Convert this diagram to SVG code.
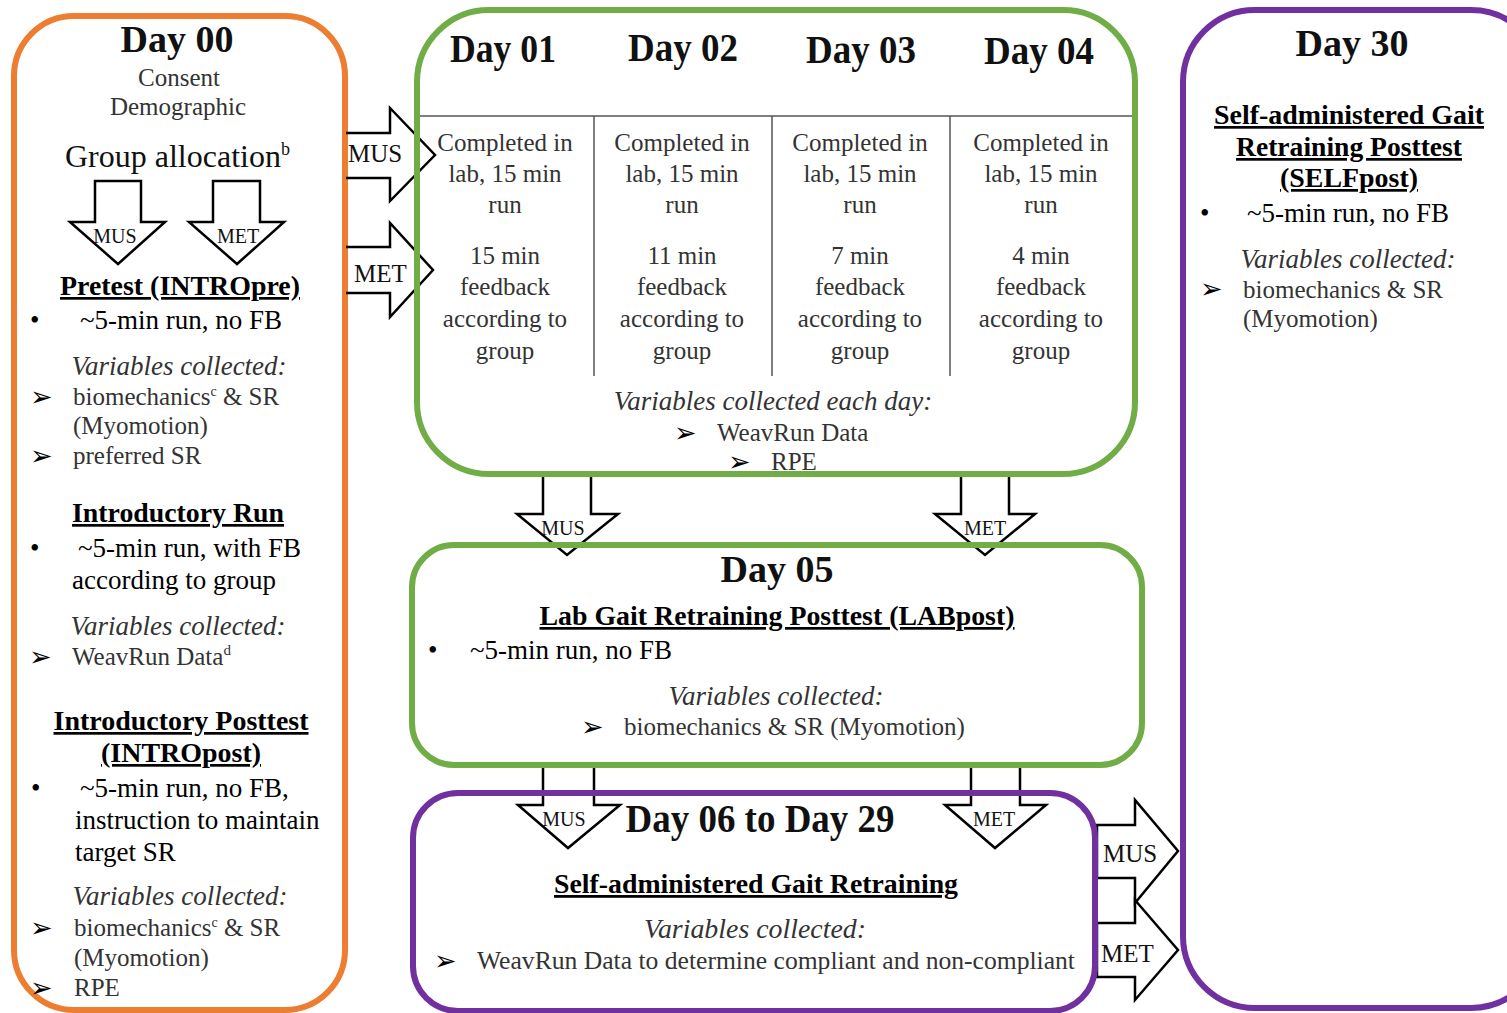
<svg xmlns="http://www.w3.org/2000/svg" width="1507" height="1013" viewBox="0 0 1507 1013">
<style>
text{font-family:"Liberation Serif","Times New Roman",serif;fill:#111}
.title{font-weight:bold;font-size:38px}
.reg{font-size:25px;fill:#333}
.run{font-size:27px;fill:#000}
.hd{font-weight:bold;font-size:27px;text-decoration:underline;fill:#000}
.var{font-style:italic;font-size:27px;fill:#333}
.blt{font-family:"DejaVu Sans",sans-serif;font-size:27px;fill:#000}
.lab{font-size:25px;fill:#111}
.slab{font-size:20px;fill:#111}
.mid{text-anchor:middle}
.box{fill:none;stroke-width:6}
.arr{fill:#fff;stroke:#000;stroke-width:2.5;stroke-linejoin:miter}
.grid{stroke:#555;stroke-width:1.5}
</style>

<g id="day00">
<rect class="box" x="14" y="16" width="331" height="994" rx="60" stroke="#ED7D31"/>
<text class="title mid" x="177" y="52">Day 00</text>
<text class="reg mid" x="179" y="86">Consent</text>
<text class="reg mid" x="178" y="115">Demographic</text>
<text x="65" y="167" style="font-size:32px;fill:#111">Group allocation<tspan dy="-12" style="font-size:18px">b</tspan></text>
<text class="hd mid" x="180" y="295" textLength="240" lengthAdjust="spacingAndGlyphs">Pretest (INTROpre)</text>
<text class="run" x="30" y="329">•</text>
<text class="run" x="80" y="329">~5-min run, no FB</text>
<text class="var mid" x="179" y="375">Variables collected:</text>
<text class="blt" x="30" y="406">➢</text>
<text class="reg" x="73" y="405">biomechanics<tspan dy="-9" style="font-size:14px">c</tspan><tspan dy="9"> &amp; SR</tspan></text>
<text class="reg" x="73" y="434">(Myomotion)</text>
<text class="blt" x="30" y="465">➢</text>
<text class="reg" x="73" y="464">preferred SR</text>
<text class="hd mid" x="178" y="522" textLength="212" lengthAdjust="spacingAndGlyphs">Introductory Run</text>
<text class="run" x="30" y="557">•</text>
<text class="run" x="78" y="557">~5-min run, with FB</text>
<text class="run" x="72" y="589">according to group</text>
<text class="var mid" x="178" y="635">Variables collected:</text>
<text class="blt" x="29" y="666">➢</text>
<text class="reg" x="72" y="665">WeavRun Data<tspan dy="-10" style="font-size:15px">d</tspan></text>
<text class="hd mid" x="181" y="730" textLength="255" lengthAdjust="spacingAndGlyphs">Introductory Posttest</text>
<text class="hd mid" x="181" y="762" textLength="160" lengthAdjust="spacingAndGlyphs">(INTROpost)</text>
<text class="run" x="31" y="797">•</text>
<text class="run" x="80" y="797">~5-min run, no FB,</text>
<text class="run" x="75" y="829">instruction to maintain</text>
<text class="run" x="75" y="861">target SR</text>
<text class="var mid" x="180" y="905">Variables collected:</text>
<text class="blt" x="30" y="937">➢</text>
<text class="reg" x="74" y="936">biomechanics<tspan dy="-9" style="font-size:14px">c</tspan><tspan dy="9"> &amp; SR</tspan></text>
<text class="reg" x="74" y="966">(Myomotion)</text>
<text class="blt" x="30" y="997">➢</text>
<text class="reg" x="74" y="996">RPE</text>
</g>

<g id="connectors">
<path class="arr" d="M95,181 H141 V222 H165 L118,264 L70,222 H95 Z"/>
<text class="slab mid" x="115" y="243">MUS</text>
<path class="arr" d="M213,181 H260 V222 H284 L237,264 L189,222 H213 Z"/>
<text class="slab mid" x="238" y="243">MET</text>
<path class="arr" style="fill:none" d="M346,133 H390 V108 L435,155 L390,201 V178 H346"/>
<text class="lab" x="348" y="162">MUS</text>
<path class="arr" style="fill:none" d="M346,247 H390 V223 L433,270 L390,317 V293 H346"/>
<text class="lab" x="354" y="282">MET</text>
<path class="arr" d="M543,474 H591 V514 H618 L567,555 L517,514 H543 Z"/>
<text class="slab mid" x="563" y="535">MUS</text>
<path class="arr" d="M961,474 H1009 V514 H1035 L985,555 L935,514 H961 Z"/>
<text class="slab mid" x="985" y="535">MET</text>
<path class="arr" d="M543,765 H594 V805 H620 L568,848 L518,805 H543 Z"/>
<text class="slab mid" x="564" y="826">MUS</text>
<path class="arr" d="M971,765 H1020 V805 H1046 L995,848 L945,805 H971 Z"/>
<text class="slab mid" x="994" y="826">MET</text>
<path class="arr" d="M1097,825 H1135 V800 L1178,851 L1135,903 V878 H1097 Z"/>
<text class="lab" x="1103" y="862">MUS</text>
<path class="arr" d="M1097,923 H1135 V900 L1178,950 L1135,1000 V977 H1097 Z"/>
<text class="lab" x="1101" y="962">MET</text>
</g>

<g id="day01-04">
<rect class="box" x="417" y="10" width="718" height="464" rx="72" stroke="#70AD47"/>
<line class="grid" x1="420" y1="116" x2="1132" y2="116"/>
<line class="grid" x1="594" y1="116" x2="594" y2="376"/>
<line class="grid" x1="772" y1="116" x2="772" y2="376"/>
<line class="grid" x1="950" y1="116" x2="950" y2="376"/>
<text class="title mid" x="503" y="62" style="font-size:41px" textLength="106" lengthAdjust="spacingAndGlyphs">Day 01</text>
<text class="title mid" x="683" y="61" style="font-size:41px" textLength="110" lengthAdjust="spacingAndGlyphs">Day 02</text>
<text class="title mid" x="861" y="63" style="font-size:41px" textLength="110" lengthAdjust="spacingAndGlyphs">Day 03</text>
<text class="title mid" x="1039" y="64" style="font-size:41px" textLength="110" lengthAdjust="spacingAndGlyphs">Day 04</text>
<text class="reg mid" x="505" y="151">Completed in</text>
<text class="reg mid" x="505" y="182">lab, 15 min</text>
<text class="reg mid" x="505" y="213">run</text>
<text class="reg mid" x="505" y="264">15 min</text>
<text class="reg mid" x="505" y="295">feedback</text>
<text class="reg mid" x="505" y="327">according to</text>
<text class="reg mid" x="505" y="359">group</text>
<text class="reg mid" x="682" y="151">Completed in</text>
<text class="reg mid" x="682" y="182">lab, 15 min</text>
<text class="reg mid" x="682" y="213">run</text>
<text class="reg mid" x="682" y="264">11 min</text>
<text class="reg mid" x="682" y="295">feedback</text>
<text class="reg mid" x="682" y="327">according to</text>
<text class="reg mid" x="682" y="359">group</text>
<text class="reg mid" x="860" y="151">Completed in</text>
<text class="reg mid" x="860" y="182">lab, 15 min</text>
<text class="reg mid" x="860" y="213">run</text>
<text class="reg mid" x="860" y="264">7 min</text>
<text class="reg mid" x="860" y="295">feedback</text>
<text class="reg mid" x="860" y="327">according to</text>
<text class="reg mid" x="860" y="359">group</text>
<text class="reg mid" x="1041" y="151">Completed in</text>
<text class="reg mid" x="1041" y="182">lab, 15 min</text>
<text class="reg mid" x="1041" y="213">run</text>
<text class="reg mid" x="1041" y="264">4 min</text>
<text class="reg mid" x="1041" y="295">feedback</text>
<text class="reg mid" x="1041" y="327">according to</text>
<text class="reg mid" x="1041" y="359">group</text>
<text class="var mid" x="773" y="410">Variables collected each day:</text>
<text class="blt" x="674" y="442">➢</text>
<text class="reg" x="717" y="441">WeavRun Data</text>
<text class="blt" x="728" y="471">➢</text>
<text class="reg" x="771" y="470">RPE</text>
</g>

<g id="day05">
<rect class="box" x="412" y="545" width="730" height="220" rx="42" stroke="#70AD47"/>
<text class="title mid" x="777" y="582">Day 05</text>
<text class="hd mid" x="777" y="625" textLength="475" lengthAdjust="spacingAndGlyphs">Lab Gait Retraining Posttest (LABpost)</text>
<text class="run" x="428" y="659">•</text>
<text class="run" x="470" y="659">~5-min run, no FB</text>
<text class="var mid" x="776" y="705">Variables collected:</text>
<text class="blt" x="581" y="736">➢</text>
<text class="reg" x="624" y="735">biomechanics &amp; SR (Myomotion)</text>
</g>

<g id="day06-29">
<rect class="box" x="413" y="793" width="682" height="218" rx="45" stroke="#7030A0"/>
<text class="title mid" x="760" y="832" style="font-size:41px" textLength="269" lengthAdjust="spacingAndGlyphs">Day 06 to Day 29</text>
<text class="hd mid" x="756" y="893" style="font-size:28px" textLength="404" lengthAdjust="spacingAndGlyphs">Self-administered Gait Retraining</text>
<text class="var mid" x="755" y="938" textLength="222" lengthAdjust="spacingAndGlyphs">Variables collected:</text>
<text class="blt" x="434" y="970">➢</text>
<text class="reg" x="477" y="969" textLength="598" lengthAdjust="spacingAndGlyphs">WeavRun Data to determine compliant and non-compliant</text>
</g>

<g id="day30">
<rect class="box" x="1183" y="10" width="360" height="998" rx="72" stroke="#7030A0"/>
<text class="title mid" x="1352" y="56">Day 30</text>
<text class="hd mid" x="1349" y="124" textLength="270" lengthAdjust="spacingAndGlyphs">Self-administered Gait</text>
<text class="hd mid" x="1349" y="156" textLength="226" lengthAdjust="spacingAndGlyphs">Retraining Posttest</text>
<text class="hd mid" x="1349" y="187" textLength="138" lengthAdjust="spacingAndGlyphs">(SELFpost)</text>
<text class="run" x="1200" y="222">•</text>
<text class="run" x="1247" y="222">~5-min run, no FB</text>
<text class="var mid" x="1348" y="268">Variables collected:</text>
<text class="blt" x="1200" y="298">➢</text>
<text class="reg" x="1243" y="298">biomechanics &amp; SR</text>
<text class="reg" x="1243" y="327">(Myomotion)</text>
</g>
</svg>
